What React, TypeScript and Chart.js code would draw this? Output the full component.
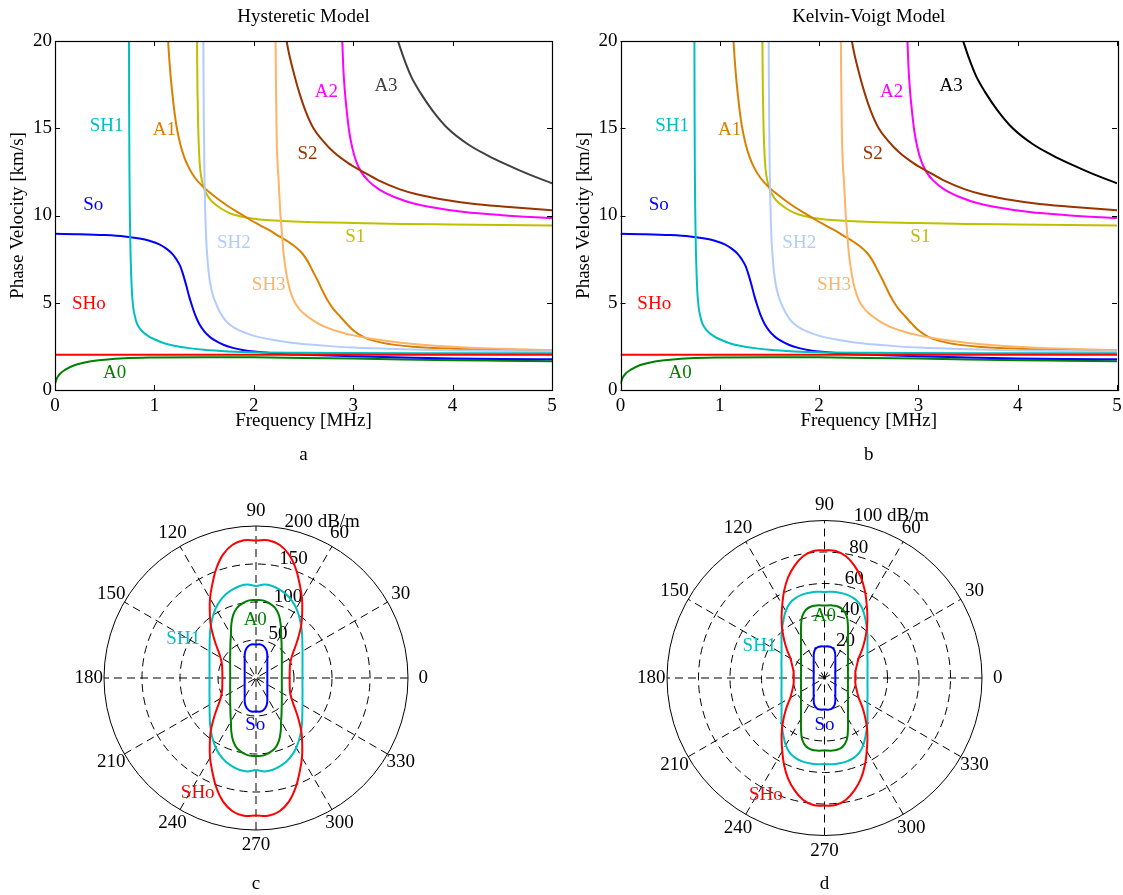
import React, { useEffect, useRef } from 'react';
import { Chart, registerables } from 'chart.js';

Chart.register(...registerables);

const FONT_FAMILY = '"Liberation Serif", "Times New Roman", serif';
const FONT = `19px ${FONT_FAMILY}`;

type Pt = [number, number];

// ---------- Dispersion curves: [frequency MHz, phase velocity km/s] ----------
const SHo: Pt[] = [[0, 2.02], [5, 2.02]];
const A0: Pt[] = [[0, 0.36], [0.02, 0.68], [0.05, 0.93], [0.1, 1.15], [0.2, 1.43], [0.3, 1.58], [0.4, 1.68], [0.5, 1.74], [0.7, 1.82], [1, 1.86], [1.5, 1.88], [2, 1.87], [2.5, 1.84], [3, 1.8], [3.5, 1.75], [4, 1.71], [4.5, 1.68], [5, 1.65]];
const So: Pt[] = [[0, 8.95], [0.25, 8.93], [0.5, 8.88], [0.7, 8.8], [0.85, 8.68], [0.95, 8.55], [1.05, 8.35], [1.12, 8.1], [1.18, 7.8], [1.22, 7.5], [1.26, 7.1], [1.29, 6.6], [1.32, 6.0], [1.35, 5.35], [1.38, 4.8], [1.41, 4.3], [1.45, 3.8], [1.5, 3.38], [1.55, 3.08], [1.6, 2.87], [1.7, 2.58], [1.8, 2.4], [1.9, 2.28], [2.0, 2.2], [2.25, 2.08], [2.5, 2.02], [3, 1.93], [3.5, 1.86], [4, 1.81], [4.5, 1.78], [5, 1.76]];
const SH1: Pt[] = [[0.744, 21], [0.746, 16], [0.749, 12.5], [0.752, 10.5], [0.756, 9], [0.761, 7.6], [0.767, 6.5], [0.774, 5.6], [0.782, 5.0], [0.792, 4.55], [0.805, 4.2], [0.822, 3.85], [0.845, 3.6], [0.875, 3.38], [0.91, 3.2], [0.95, 3.05], [1.0, 2.91], [1.1, 2.68], [1.2, 2.54], [1.35, 2.4], [1.5, 2.3], [1.75, 2.21], [2, 2.16], [2.5, 2.13], [3, 2.12], [4, 2.11], [5, 2.1]];
const SH2: Pt[] = [[1.492, 21], [1.494, 18], [1.498, 15], [1.503, 12.5], [1.51, 10.5], [1.518, 9], [1.53, 7.8], [1.545, 6.8], [1.565, 6.0], [1.59, 5.4], [1.62, 4.95], [1.66, 4.45], [1.71, 4.02], [1.78, 3.65], [1.86, 3.4], [1.95, 3.2], [2.05, 3.03], [2.2, 2.87], [2.4, 2.7], [2.6, 2.59], [2.8, 2.5], [3, 2.43], [3.5, 2.33], [4, 2.27], [4.5, 2.23], [5, 2.2]];
const SH3: Pt[] = [[2.218, 21], [2.222, 18], [2.23, 14.5], [2.24, 12.9], [2.25, 12], [2.265, 10.3], [2.28, 9.2], [2.3, 7.8], [2.33, 6.6], [2.36, 5.8], [2.4, 5.15], [2.45, 4.7], [2.5, 4.4], [2.6, 3.98], [2.7, 3.66], [2.85, 3.35], [3.0, 3.13], [3.2, 2.92], [3.5, 2.7], [4, 2.48], [4.5, 2.36], [5, 2.28]];
const A1: Pt[] = [[1.128, 21], [1.14, 19.8], [1.16, 18.2], [1.19, 16.5], [1.22, 15.2], [1.26, 14.1], [1.3, 13.35], [1.35, 12.7], [1.41, 12.15], [1.48, 11.7], [1.56, 11.3], [1.65, 10.9], [1.75, 10.5], [1.85, 10.15], [1.95, 9.8], [2.05, 9.48], [2.15, 9.17], [2.2, 9.0], [2.25, 8.82], [2.3, 8.66], [2.35, 8.48], [2.42, 8.2], [2.48, 7.88], [2.54, 7.4], [2.59, 6.85], [2.64, 6.3], [2.69, 5.7], [2.74, 5.16], [2.8, 4.65], [2.87, 4.2], [2.94, 3.76], [3.0, 3.42], [3.1, 3.05], [3.22, 2.8], [3.4, 2.6], [3.6, 2.48], [4, 2.37], [4.5, 2.31], [5, 2.27]];
const S1: Pt[] = [[1.428, 21], [1.43, 19], [1.434, 17], [1.44, 15.2], [1.448, 13.8], [1.46, 12.7], [1.48, 11.95], [1.51, 11.4], [1.55, 11.0], [1.6, 10.7], [1.67, 10.4], [1.75, 10.15], [1.85, 9.97], [2.0, 9.82], [2.3, 9.68], [2.6, 9.62], [3, 9.57], [3.5, 9.52], [4, 9.49], [4.5, 9.46], [5, 9.43]];
const S2: Pt[] = [[2.31, 21], [2.325, 20.2], [2.35, 19.4], [2.41, 18.0], [2.46, 17.0], [2.52, 16.0], [2.6, 15.0], [2.7, 14.25], [2.8, 13.65], [2.95, 13.0], [3.1, 12.5], [3.26, 12.0], [3.47, 11.5], [3.65, 11.2], [3.87, 10.95], [4.2, 10.68], [4.5, 10.52], [5, 10.3]];
const A2: Pt[] = [[2.885, 21], [2.89, 20], [2.9, 18.5], [2.915, 17.2], [2.935, 16.0], [2.96, 14.8], [2.99, 13.9], [3.03, 13.1], [3.08, 12.5], [3.15, 12.0], [3.26, 11.5], [3.44, 11.0], [3.6, 10.7], [3.76, 10.5], [4.12, 10.2], [4.5, 10.02], [5, 9.85]];
const A3: Pt[] = [[3.39, 21], [3.45, 20], [3.51, 19], [3.58, 18], [3.68, 17], [3.8, 16], [3.95, 15], [4.15, 14.1], [4.35, 13.45], [4.55, 12.9], [4.75, 12.4], [5, 11.85]];

const MODE_COLORS: Record<string, string> = {
  SHo: '#ff0000', A0: '#007f00', So: '#0000ff', SH1: '#00bfbf', SH2: '#b3ccff',
  SH3: '#ffb366', A1: '#d98000', S1: '#bfbf00', S2: '#993300', A2: '#ff00ff', A3: '#404040',
};

// label anchors [frequency, velocity]
const MODE_LABELS: { t: string; f: number; v: number }[] = [
  { t: 'SH1', f: 0.52, v: 15.1 }, { t: 'A1', f: 1.1, v: 14.9 }, { t: 'So', f: 0.385, v: 10.6 },
  { t: 'SHo', f: 0.34, v: 4.9 }, { t: 'A0', f: 0.6, v: 0.95 }, { t: 'SH2', f: 1.8, v: 8.4 },
  { t: 'SH3', f: 2.15, v: 6.03 }, { t: 'S1', f: 3.02, v: 8.75 }, { t: 'S2', f: 2.54, v: 13.55 },
  { t: 'A2', f: 2.73, v: 17.1 }, { t: 'A3', f: 3.33, v: 17.4 },
];

// ---------- Attenuation vs direction, first quadrant (deg), dB/m ----------
const POLAR_ANGLES = [0, 5, 10, 15, 20, 25, 30, 35, 40, 45, 50, 55, 60, 65, 70, 75, 80, 85, 90];
const ATT_C_SHo = [44, 44.5, 45, 46, 47.5, 50, 54, 60, 69, 80, 93, 106, 121, 136, 153, 168, 178, 182, 181];
const ATT_C_SH1 = [61.2, 61.4, 62.1, 63.4, 65.1, 67.5, 70.7, 74.5, 79.5, 85.5, 92, 99, 106, 112, 117, 120.5, 123, 123.5, 121];
const ATT_C_A0 = [34, 34.1, 34.5, 35.2, 36.2, 37.5, 39.3, 41.5, 44.4, 48, 52.5, 58.5, 66, 77, 88, 96, 100, 102.5, 102.5];
const ATT_C_So = [14.9, 15, 15.1, 15.4, 15.9, 16.4, 17.2, 18.2, 19.5, 21.1, 23.2, 26, 29.8, 35, 39.5, 42.5, 44.2, 44.5, 44];
const ATT_D_SHo = [19.5, 19.6, 19.9, 20.6, 21.7, 23.1, 25, 28.3, 32.3, 36.8, 42, 47.5, 53.6, 60.8, 67.8, 73.7, 78.5, 81, 81];
const ATT_D_SH1 = [27.3, 27.4, 27.7, 28.3, 29.1, 30.1, 31.5, 33.3, 35.6, 38.6, 41.8, 45.3, 49.2, 52.3, 54, 54.8, 55, 55, 54.6];
const ATT_D_A0 = [14.9, 15, 15.1, 15.4, 15.9, 16.4, 17.2, 18.2, 19.5, 21.1, 23.2, 26, 29.8, 35.3, 41.5, 45, 46.3, 46.3, 46];
const ATT_D_So = [6.9, 6.9, 7, 7.1, 7.3, 7.6, 7.9, 8.4, 9, 9.7, 10.7, 12, 13.7, 16.2, 18.5, 19.7, 20.2, 20.2, 20];

const POLAR_C_LABELS = [
  { t: 'A0', x: -1, y: 76.8 }, { t: 'SH1', x: -95.7, y: 50.9 }, { t: 'So', x: -1, y: -61.3 }, { t: 'SHo', x: -76.7, y: -150.8 },
];
const POLAR_D_LABELS = [
  { t: 'A0', x: 0, y: 39.4 }, { t: 'SH1', x: -41.3, y: 20.3 }, { t: 'So', x: 0, y: -30 }, { t: 'SHo', x: -37.2, y: -74 },
];

function polarLoop(q: number[]) {
  const pts: { x: number; y: number }[] = [];
  const n = POLAR_ANGLES.length - 1;
  const push = (deg: number, r: number) => {
    const a = (deg * Math.PI) / 180;
    pts.push({ x: r * Math.cos(a), y: r * Math.sin(a) });
  };
  for (let j = 0; j <= n; j++) push(POLAR_ANGLES[j], q[j]);
  for (let j = n - 1; j >= 0; j--) push(180 - POLAR_ANGLES[j], q[j]);
  for (let j = 1; j <= n; j++) push(180 + POLAR_ANGLES[j], q[j]);
  for (let j = n - 1; j >= 0; j--) push(360 - POLAR_ANGLES[j], q[j]);
  return pts;
}

function DispersionChart(props: { left: number; width: number; yAxisWidth: number; padRight: number; title: string; letter: string; a3Color: string }) {
  const ref = useRef<HTMLCanvasElement>(null);
  useEffect(() => {
    const canvas = ref.current!;
    const colors = { ...MODE_COLORS, A3: props.a3Color };
    const series: { name: string; pts: Pt[] }[] = [
      { name: 'SHo', pts: SHo }, { name: 'SH1', pts: SH1 }, { name: 'SH2', pts: SH2 }, { name: 'SH3', pts: SH3 },
      { name: 'So', pts: So }, { name: 'A0', pts: A0 }, { name: 'A1', pts: A1 }, { name: 'S1', pts: S1 },
      { name: 'S2', pts: S2 }, { name: 'A2', pts: A2 }, { name: 'A3', pts: A3 },
    ];
    const plugin = {
      id: 'matlabAxes',
      afterDatasetsDraw(chart: any) {
        const ctx = chart.ctx as CanvasRenderingContext2D;
        const { left, right, top, bottom } = chart.chartArea;
        const xs = chart.scales.x;
        const ys = chart.scales.y;
        ctx.save();
        ctx.strokeStyle = '#000';
        ctx.lineWidth = 1.2;
        ctx.strokeRect(Math.round(left) + 0.5, Math.round(top) + 0.5, Math.round(right - left), Math.round(bottom - top));
        ctx.lineWidth = 1;
        ctx.beginPath();
        xs.ticks.forEach((t: any) => {
          const p = Math.round(xs.getPixelForValue(t.value)) + 0.5;
          ctx.moveTo(p, bottom); ctx.lineTo(p, bottom - 5);
          ctx.moveTo(p, top); ctx.lineTo(p, top + 5);
        });
        ys.ticks.forEach((t: any) => {
          const p = Math.round(ys.getPixelForValue(t.value)) + 0.5;
          ctx.moveTo(left, p); ctx.lineTo(left + 5, p);
          ctx.moveTo(right, p); ctx.lineTo(right - 5, p);
        });
        ctx.stroke();
        ctx.font = FONT;
        ctx.textAlign = 'center';
        ctx.textBaseline = 'middle';
        MODE_LABELS.forEach((l) => {
          ctx.fillStyle = colors[l.t];
          ctx.fillText(l.t, xs.getPixelForValue(l.f), ys.getPixelForValue(l.v));
        });
        const cx = (left + right) / 2;
        ctx.fillStyle = '#000';
        ctx.fillText(props.title, cx, 17);
        ctx.fillText('Frequency [MHz]', cx, 421);
        ctx.fillText(props.letter, cx, 455);
        ctx.translate(left - 36.5, (top + bottom) / 2);
        ctx.rotate(-Math.PI / 2);
        ctx.fillText('Phase Velocity [km/s]', 0, 0);
        ctx.restore();
      },
    };
    const tickFont = { family: FONT_FAMILY, size: 19 };
    const chart = new Chart(canvas, {
      type: 'scatter',
      data: {
        datasets: series.map((s) => ({
          label: s.name,
          data: s.pts.map(([x, y]) => ({ x, y })),
          showLine: true,
          borderColor: colors[s.name],
          backgroundColor: colors[s.name],
          borderWidth: 2,
          pointRadius: 0,
          pointHoverRadius: 0,
          cubicInterpolationMode: 'monotone',
          fill: false,
        })) as any,
      },
      options: {
        responsive: false,
        animation: false,
        devicePixelRatio: 1,
        events: [],
        layout: { padding: { left: 0, right: props.padRight, top: 41, bottom: 0 } },
        plugins: { legend: { display: false }, tooltip: { enabled: false }, title: { display: false } },
        scales: {
          x: {
            type: 'linear', min: 0, max: 5,
            ticks: { stepSize: 1, font: tickFont, color: '#000', padding: 5, maxRotation: 0 },
            grid: { display: false, drawTicks: false, tickLength: 0 }, border: { display: false },
            afterFit: (s: any) => { s.height = 80; },
          },
          y: {
            type: 'linear', min: 0, max: 20,
            ticks: { stepSize: 5, font: tickFont, color: '#000', padding: 3 },
            grid: { display: false, drawTicks: false, tickLength: 0 }, border: { display: false },
            afterFit: (s: any) => { s.width = props.yAxisWidth; },
          },
        },
      } as any,
      plugins: [plugin],
    });
    return () => chart.destroy();
  }, []);
  return (
    <canvas ref={ref} width={props.width} height={470}
      style={{ position: 'absolute', left: props.left, top: 0, width: props.width, height: 470, display: 'block' }} />
  );
}

function PolarChart(props: {
  left: number; width: number; pad: { left: number; right: number; top: number; bottom: number };
  rmax: number; rinc: number; curves: { name: string; q: number[] }[];
  labels: { t: string; x: number; y: number }[]; letter: string;
}) {
  const ref = useRef<HTMLCanvasElement>(null);
  useEffect(() => {
    const canvas = ref.current!;
    const { rmax, rinc } = props;
    const grid = {
      id: 'polarGrid',
      beforeDatasetsDraw(chart: any) {
        const ctx = chart.ctx as CanvasRenderingContext2D;
        const xs = chart.scales.x;
        const ys = chart.scales.y;
        const cx = xs.getPixelForValue(0);
        const cy = ys.getPixelForValue(0);
        const k = (xs.getPixelForValue(rmax) - cx) / rmax;
        const R = rmax * k;
        ctx.save();
        ctx.strokeStyle = '#000';
        ctx.lineWidth = 1;
        ctx.setLineDash([8, 5]);
        for (let i = rinc; i < rmax - 1e-9; i += rinc) {
          ctx.beginPath();
          ctx.arc(cx, cy, i * k, 0, -2 * Math.PI, true);
          ctx.stroke();
        }
        for (let s = 1; s <= 6; s++) {
          const a = (s * 30 * Math.PI) / 180;
          ctx.beginPath();
          ctx.moveTo(cx - R * Math.cos(a), cy + R * Math.sin(a));
          ctx.lineTo(cx + R * Math.cos(a), cy - R * Math.sin(a));
          ctx.stroke();
        }
        ctx.setLineDash([]);
        ctx.beginPath();
        ctx.arc(cx, cy, R, 0, 2 * Math.PI);
        ctx.stroke();
        ctx.fillStyle = '#000';
        ctx.font = FONT;
        ctx.textAlign = 'center';
        ctx.textBaseline = 'middle';
        const rt = 1.1 * R;
        for (let s = 1; s <= 6; s++) {
          const a = (s * 30 * Math.PI) / 180;
          ctx.fillText(String(s * 30), cx + rt * Math.cos(a), cy - rt * Math.sin(a));
          const opp = s === 6 ? '0' : String(180 + s * 30);
          ctx.fillText(opp, cx - rt * Math.cos(a), cy + rt * Math.sin(a));
        }
        ctx.textAlign = 'left';
        ctx.textBaseline = 'alphabetic';
        const c82 = Math.cos((82 * Math.PI) / 180);
        const s82 = Math.sin((82 * Math.PI) / 180);
        for (let i = rinc; i <= rmax + 1e-9; i += rinc) {
          const r = (i + rinc / 20) * k;
          const txt = Math.abs(i - rmax) < 1e-9 ? `${i} dB/m` : String(i);
          ctx.fillText(txt, cx + r * c82 + 7, cy - r * s82 + 1);
        }
        ctx.restore();
      },
      afterDatasetsDraw(chart: any) {
        const ctx = chart.ctx as CanvasRenderingContext2D;
        const xs = chart.scales.x;
        const ys = chart.scales.y;
        ctx.save();
        ctx.font = FONT;
        ctx.textAlign = 'center';
        ctx.textBaseline = 'middle';
        props.labels.forEach((l) => {
          ctx.fillStyle = MODE_COLORS[l.t];
          ctx.fillText(l.t, xs.getPixelForValue(l.x), ys.getPixelForValue(l.y));
        });
        ctx.fillStyle = '#000';
        ctx.fillText(props.letter, xs.getPixelForValue(0), 406);
        ctx.restore();
      },
    };
    const chart = new Chart(canvas, {
      type: 'scatter',
      data: {
        datasets: props.curves.map((c) => ({
          label: c.name,
          data: polarLoop(c.q),
          showLine: true,
          borderColor: MODE_COLORS[c.name],
          backgroundColor: MODE_COLORS[c.name],
          borderWidth: 2,
          pointRadius: 0,
          pointHoverRadius: 0,
          tension: 0.4,
          fill: false,
        })) as any,
      },
      options: {
        responsive: false,
        animation: false,
        devicePixelRatio: 1,
        events: [],
        layout: { padding: props.pad },
        plugins: { legend: { display: false }, tooltip: { enabled: false }, title: { display: false } },
        scales: {
          x: { type: 'linear', min: -rmax, max: rmax, display: false },
          y: { type: 'linear', min: -rmax, max: rmax, display: false },
        },
      } as any,
      plugins: [grid],
    });
    return () => chart.destroy();
  }, []);
  return (
    <canvas ref={ref} width={props.width} height={420}
      style={{ position: 'absolute', left: props.left, top: 478, width: props.width, height: 420, display: 'block' }} />
  );
}

export default function App() {
  return (
    <div style={{ position: 'absolute', left: 0, top: 0, width: 1123, height: 895, background: '#fff', overflow: 'hidden' }}>
      <DispersionChart left={0} width={565} yAxisWidth={55} padRight={13} title="Hysteretic Model" letter="a" a3Color="#404040" />
      <DispersionChart left={565} width={570} yAxisWidth={55.5} padRight={18} title="Kelvin-Voigt Model" letter="b" a3Color="#000000" />
      <PolarChart left={56} width={400} pad={{ left: 48, right: 48, top: 48, bottom: 68 }} rmax={200} rinc={50}
        curves={[{ name: 'SHo', q: ATT_C_SHo }, { name: 'SH1', q: ATT_C_SH1 }, { name: 'A0', q: ATT_C_A0 }, { name: 'So', q: ATT_C_So }]}
        labels={POLAR_C_LABELS} letter="c" />
      <PolarChart left={624} width={401} pad={{ left: 43, right: 43, top: 42.5, bottom: 62.5 }} rmax={100} rinc={20}
        curves={[{ name: 'SHo', q: ATT_D_SHo }, { name: 'SH1', q: ATT_D_SH1 }, { name: 'A0', q: ATT_D_A0 }, { name: 'So', q: ATT_D_So }]}
        labels={POLAR_D_LABELS} letter="d" />
    </div>
  );
}
